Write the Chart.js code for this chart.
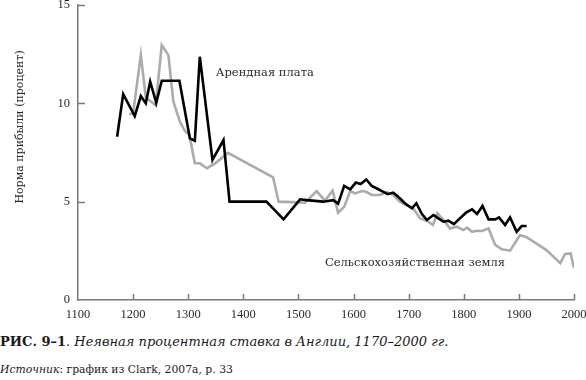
<!DOCTYPE html>
<html>
<head>
<meta charset="utf-8">
<script src="https://cdn.jsdelivr.net/npm/chart.js@4.4.0/dist/chart.umd.min.js"></script>
<style>
  html, body { margin: 0; padding: 0; background: #fff; }
  #wrap { position: relative; width: 586px; height: 380px; overflow: hidden; }
  #c { position: absolute; left: 0; top: 0; }
  .cap { position: absolute; left: 0; white-space: nowrap; color: #1a1a1a; font-family: "DejaVu Serif", serif; }
  #caption { top: 333px; font-size: 13px; line-height: 17px; }
  #caption b { font-weight: bold; }
  #source { top: 363px; font-size: 10.8px; line-height: 14px; }
</style>
</head>
<body>
<div id="wrap">
  <canvas id="c" width="586" height="330"></canvas>
  <div id="caption" class="cap"><b>РИС. 9–1</b>. <i>Неявная процентная ставка в Англии, 1170–2000 гг.</i></div>
  <div id="source" class="cap"><i>Источник</i>: график из Clark, 2007a, p. 33</div>
</div>
<script>
// ---- Data ----
const rentYears = [1171,1182,1203,1214,1223,1231,1242,1252,1284,1303,1312,1321,1344,1364,1375,1442,1473,1503,1515,1545,1563,1572,1583,1594,1604,1613,1623,1633,1645,1654,1662,1672,1684,1693,1706,1714,1724,1733,1745,1754,1763,1772,1782,1793,1804,1815,1824,1834,1845,1857,1864,1875,1884,1896,1905,1914];
const rentValues = [8.3,10.47,9.35,10.37,10.0,11.1,10.03,11.15,11.15,8.22,8.1,12.37,7.12,8.13,5.0,5.0,4.1,5.12,5.08,5.0,5.08,4.9,5.8,5.63,5.97,5.9,6.13,5.8,5.63,5.5,5.38,5.46,5.17,4.92,4.66,4.92,4.37,4.07,4.32,4.15,3.98,4.03,3.86,4.15,4.44,4.61,4.37,4.78,4.1,4.1,4.2,3.81,4.2,3.47,3.76,3.76];

const landYears = [1193,1200,1214,1223,1241,1252,1264,1273,1285,1294,1302,1312,1321,1334,1349,1372,1454,1464,1512,1533,1548,1562,1572,1583,1594,1603,1615,1623,1633,1648,1660,1672,1684,1696,1708,1721,1733,1744,1752,1763,1775,1787,1799,1806,1815,1824,1833,1845,1857,1869,1884,1902,1914,1950,1975,1984,1994,2000];
const landValues = [9.45,9.5,12.45,10.3,9.9,12.96,12.45,10.1,9.06,8.6,8.4,6.95,6.95,6.7,6.95,7.48,6.24,5.0,4.95,5.54,5.05,5.56,4.44,4.74,5.54,5.42,5.54,5.5,5.34,5.34,5.5,5.34,5.0,4.83,4.66,4.15,4.03,3.81,4.41,4.07,3.64,3.73,3.56,3.68,3.47,3.52,3.51,3.64,2.8,2.58,2.51,3.3,3.19,2.54,1.87,2.34,2.37,1.61];

const xTickValues = [1100,1200,1300,1400,1500,1600,1700,1800,1900,2000];
const yTickValues = [0,5,10,15];

const yAxisTitle = "Норма прибыли (процент)";
const rentLabel = "Арендная плата";
const landLabel = "Сельскохозяйственная земля";
// label anchors in data units (year, value)
const rentLabelAt = [1350, 11.55];
const landLabelAt = [1548, 1.88];
const yTitleAtValue = 8.8;

const toPts = (xs, ys) => xs.map((x, i) => ({ x: x, y: ys[i] }));

const axisColor = '#7a7a7a';
const textColor = '#2a2a2a';

const decor = {
  id: 'decor',
  afterDraw(chart) {
    const ctx = chart.ctx;
    const xs = chart.scales.x, ys = chart.scales.y;
    const area = chart.chartArea;
    ctx.save();
    ctx.strokeStyle = axisColor;
    ctx.lineWidth = 1.5;
    yTickValues.forEach(v => {
      if (v === 0) return;
      const py = Math.round(ys.getPixelForValue(v)) + 0.5;
      ctx.beginPath(); ctx.moveTo(area.left, py); ctx.lineTo(area.left + 7, py); ctx.stroke();
    });
    xTickValues.forEach(v => {
      if (v === 1100) return;
      const px = Math.round(xs.getPixelForValue(v)) + 0.5;
      ctx.beginPath(); ctx.moveTo(px, area.bottom); ctx.lineTo(px, area.bottom - 6); ctx.stroke();
    });
    ctx.fillStyle = textColor;
    ctx.font = '11px "DejaVu Serif"';
    ctx.textAlign = 'center';
    ctx.textBaseline = 'middle';
    ctx.translate(20, ys.getPixelForValue(yTitleAtValue));
    ctx.rotate(-Math.PI / 2);
    ctx.fillText(yAxisTitle, 0, 0);
    ctx.restore();
    ctx.save();
    ctx.fillStyle = textColor;
    ctx.font = '11.5px "DejaVu Serif"';
    ctx.textAlign = 'left';
    ctx.textBaseline = 'middle';
    ctx.fillText(rentLabel, xs.getPixelForValue(rentLabelAt[0]), ys.getPixelForValue(rentLabelAt[1]));
    ctx.fillText(landLabel, xs.getPixelForValue(landLabelAt[0]), ys.getPixelForValue(landLabelAt[1]));
    ctx.restore();
  }
};

new Chart(document.getElementById('c'), {
  type: 'line',
  data: {
    datasets: [
      { label: rentLabel, data: toPts(rentYears, rentValues), borderColor: '#000', borderWidth: 2.6, pointRadius: 0, tension: 0, fill: false, order: 0 },
      { label: landLabel, data: toPts(landYears, landValues), borderColor: '#ababab', borderWidth: 2.6, pointRadius: 0, tension: 0, fill: false, order: 1 }
    ]
  },
  options: {
    responsive: false,
    animation: false,
    devicePixelRatio: 1,
    layout: { padding: { top: 5, right: 12, left: 0, bottom: 0 } },
    plugins: { legend: { display: false }, tooltip: { enabled: false } },
    scales: {
      x: {
        type: 'linear', min: 1100, max: 2000,
        afterBuildTicks: s => { s.ticks = xTickValues.map(v => ({ value: v })); },
        afterFit: s => { s.height = 30; s.paddingLeft = 0; s.paddingRight = 0; },
        grid: { display: false, drawTicks: false },
        border: { display: true, color: axisColor, width: 1.5 },
        ticks: { padding: 7, color: textColor, font: { family: '"Liberation Serif"', size: 12.5 }, maxRotation: 0, autoSkip: false, callback: v => String(v) }
      },
      y: {
        type: 'linear', min: 0, max: 15,
        afterBuildTicks: s => { s.ticks = yTickValues.map(v => ({ value: v })); },
        afterFit: s => { s.width = 78; s.paddingTop = 0; s.paddingBottom = 0; },
        grid: { display: false, drawTicks: false },
        border: { display: true, color: axisColor, width: 1.5 },
        ticks: { padding: 8, color: textColor, font: { family: '"Liberation Serif"', size: 12.5 }, callback: v => String(v) }
      }
    }
  },
  plugins: [decor]
});
</script>
</body>
</html>
